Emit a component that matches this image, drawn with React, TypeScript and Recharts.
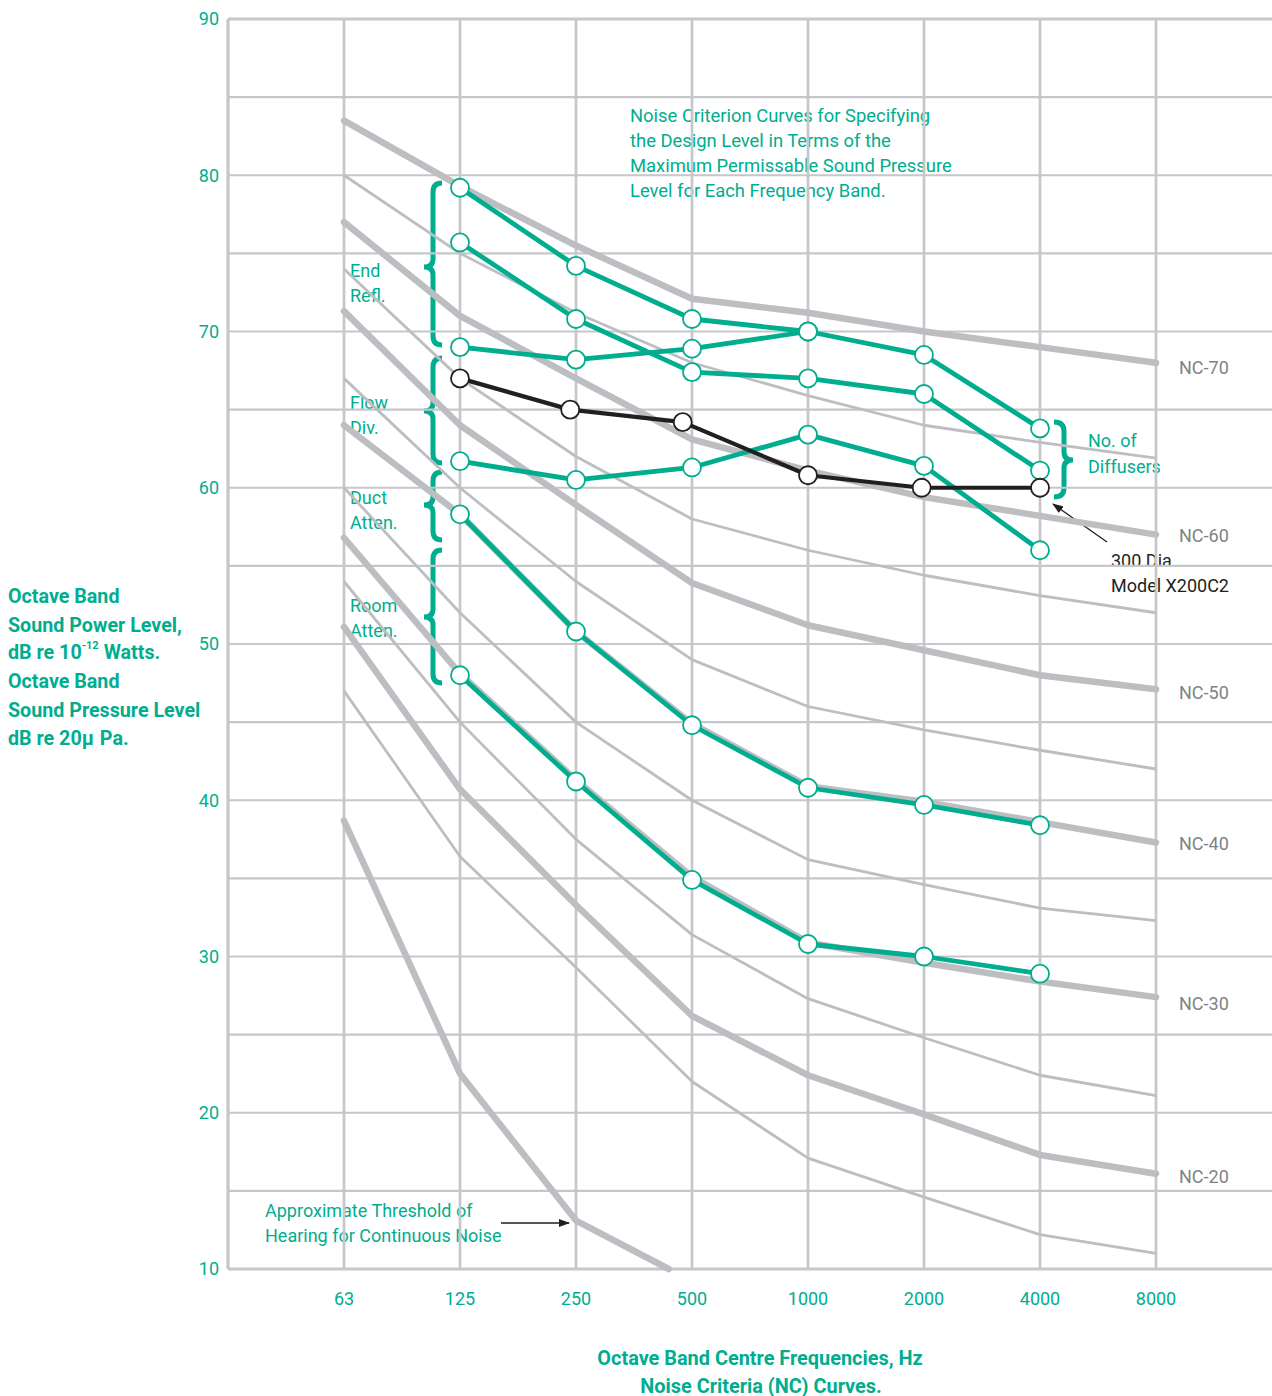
import React from 'react';
import { LineChart, Line, XAxis, YAxis, Customized } from 'recharts';

// ---------- data ----------
const FREQ_LABELS = ['63', '125', '250', '500', '1000', '2000', '4000', '8000'];
const FREQ_POS = [1, 2, 3, 4, 5, 6, 7, 8];
const Y_TICKS = [10, 20, 30, 40, 50, 60, 70, 80, 90];
const GRID_H = [15, 20, 25, 30, 35, 40, 45, 50, 55, 60, 65, 70, 75, 80, 85];
const GRID_V = [1, 2, 3, 4, 5, 6, 7, 8];

// thick NC curves (63 … 8000 Hz)
const NC70 = [83.5, 79.3, 75.5, 72.1, 71.2, 70.0, 69.0, 68.0];
const NC60 = [77.0, 71.0, 67.0, 63.1, 61.1, 59.4, 58.2, 57.0];
const NC50 = [71.3, 64.0, 58.9, 53.9, 51.2, 49.6, 48.0, 47.1];
const NC40 = [64.0, 58.3, 50.8, 44.9, 40.9, 39.9, 38.6, 37.3];
const NC30 = [56.8, 48.1, 41.3, 35.1, 30.9, 29.6, 28.4, 27.4];
const NC20 = [51.1, 40.7, 33.3, 26.2, 22.4, 19.9, 17.3, 16.1];
// thin intermediate NC curves
const NC65 = [80.0, 75.0, 71.2, 68.0, 65.9, 64.0, 62.9, 61.9];
const NC55 = [74.0, 67.0, 62.0, 58.0, 56.0, 54.4, 53.1, 52.0];
const NC45 = [67.0, 60.0, 54.0, 49.0, 46.0, 44.5, 43.2, 42.0];
const NC35 = [60.0, 52.0, 45.0, 40.0, 36.2, 34.6, 33.1, 32.3];
const NC25 = [54.0, 45.0, 37.5, 31.4, 27.3, 24.8, 22.4, 21.1];
const NC15 = [47.0, 36.4, 29.3, 22.0, 17.1, 14.6, 12.2, 11.0];

// hearing threshold (ends where it meets the 10 dB axis)
const THRESHOLD_POS = [1, 2, 3, 3.8];
const THRESHOLD = [38.7, 22.5, 13.1, 10.0];

// selection example series (125 … 4000 Hz)
const SERIES_POS = [2, 3, 4, 5, 6, 7];
const SERIES_A = [79.2, 74.2, 70.8, 70.0, 68.5, 63.8];
const SERIES_B = [75.7, 70.8, 67.4, 67.0, 66.0, 61.1];
const SERIES_C = [69.0, 68.2, 68.9, 70.0];
const SERIES_D = [61.7, 60.5, 61.3, 63.4, 61.4, 56.0];
const SERIES_E = [58.3, 50.8, 44.8, 40.8, 39.7, 38.4];
const SERIES_F = [48.0, 41.2, 34.9, 30.8, 30.0, 28.9];
const MODEL_POS = [2, 2.95, 3.92, 5, 5.98, 7];
const MODEL = [67.0, 65.0, 64.2, 60.8, 60.0, 60.0];

const NC_LABELS = ['NC-70', 'NC-60', 'NC-50', 'NC-40', 'NC-30', 'NC-20'];

// ---------- styling ----------
const TEAL = '#00ad8e';
const GREY = '#bdbec2';
const GRID = '#c6c7ca';
const DARK = '#231f20';
const LABEL_GREY = '#808285';
const FONT = 'Roboto, "Open Sans", sans-serif';

const toPts = (xs: number[], ys: number[]) => ys.map((y, i) => ({ x: xs[i], y }));

const vLine = (x: number) => [{ x, y: 10 }, { x, y: 90 }];
const hLine = (y: number) => [{ x: 0, y }, { x: 9, y }];

const braceL = (x: number, y1: number, y2: number, ym: number) =>
  `M${x + 9},${y1} Q${x},${y1} ${x},${y1 + 9} L${x},${ym - 8} Q${x},${ym} ${x - 9},${ym} Q${x},${ym} ${x},${ym + 8} L${x},${y2 - 9} Q${x},${y2} ${x + 9},${y2}`;
const braceR = (x: number, y1: number, y2: number, ym: number) =>
  `M${x - 10},${y1} Q${x},${y1} ${x},${y1 + 9} L${x},${ym - 8} Q${x},${ym} ${x + 9},${ym} Q${x},${ym} ${x},${ym + 8} L${x},${y2 - 9} Q${x},${y2} ${x - 10},${y2}`;

const T = (props: any) => (
  <text
    fontFamily={FONT}
    fontSize={18}
    dominantBaseline="central"
    fill={TEAL}
    {...props}
  />
);

const Annotations = () => (
  <g>
    <defs>
      <marker id="arrowHead" markerWidth="11" markerHeight="8" refX="10" refY="4" orient="auto" markerUnits="userSpaceOnUse">
        <path d="M0,0 L11,4 L0,8 z" fill={DARK} />
      </marker>
    </defs>
    {/* braces */}
    <g fill="none" stroke={TEAL} strokeWidth={5} strokeLinecap="butt">
      <path d={braceL(433, 183, 345, 267)} />
      <path d={braceL(433, 358, 463, 411)} />
      <path d={braceL(433, 472, 540, 505)} />
      <path d={braceL(433, 550, 683, 617)} />
      <path d={braceR(1064, 422, 497, 460)} />
    </g>
    {/* arrows */}
    <line x1={1107} y1={542} x2={1053} y2={504} stroke={DARK} strokeWidth={1.3} markerEnd="url(#arrowHead)" />
    <line x1={501} y1={1223} x2={569} y2={1223} stroke={DARK} strokeWidth={1.3} markerEnd="url(#arrowHead)" />

    {/* note */}
    <T x={630} y={115} fontSize={18.4}>Noise Criterion Curves for Specifying</T>
    <T x={630} y={140} fontSize={18.4}>the Design Level in Terms of the</T>
    <T x={630} y={165} fontSize={18.4}>Maximum Permissable Sound Pressure</T>
    <T x={630} y={190} fontSize={18.4}>Level for Each Frequency Band.</T>

    <T x={350} y={270}>End</T>
    <T x={350} y={295}>Refl.</T>
    <T x={350} y={402}>Flow</T>
    <T x={350} y={427}>Div.</T>
    <T x={350} y={497}>Duct</T>
    <T x={350} y={522}>Atten.</T>
    <T x={350} y={605}>Room</T>
    <T x={350} y={630}>Atten.</T>

    <T x={1088} y={440}>No. of</T>
    <T x={1088} y={466}>Diffusers</T>

    <T x={1111} y={560} fill={DARK}>300 Dia</T>
    <T x={1111} y={585} fill={DARK}>Model X200C2</T>

    <T x={265} y={1210}>Approximate Threshold of</T>
    <T x={265} y={1235}>Hearing for Continuous Noise</T>

    {/* NC labels */}
    <T x={1179} y={367} fill={LABEL_GREY}>{NC_LABELS[0]}</T>
    <T x={1179} y={535} fill={LABEL_GREY}>{NC_LABELS[1]}</T>
    <T x={1179} y={692} fill={LABEL_GREY}>{NC_LABELS[2]}</T>
    <T x={1179} y={843} fill={LABEL_GREY}>{NC_LABELS[3]}</T>
    <T x={1179} y={1003} fill={LABEL_GREY}>{NC_LABELS[4]}</T>
    <T x={1179} y={1176} fill={LABEL_GREY}>{NC_LABELS[5]}</T>

    {/* left axis title */}
    <T x={8} y={596} fontSize={19.7} fontWeight={700}>Octave Band</T>
    <T x={8} y={625} fontSize={19.7} fontWeight={700}>Sound Power Level,</T>
    <T x={8} y={652} fontSize={19.7} fontWeight={700}>
      dB re 10
      <tspan fontSize={11} dy={-7}>-12</tspan>
      <tspan dy={7} dx={5}>Watts.</tspan>
    </T>
    <T x={8} y={681} fontSize={19.7} fontWeight={700}>Octave Band</T>
    <T x={8} y={710} fontSize={19.7} fontWeight={700}>Sound Pressure Level</T>
    <T x={8} y={738} fontSize={19.7} fontWeight={700}>
      dB re 20µ<tspan dx={6}>Pa.</tspan>
    </T>

    {/* bottom axis title */}
    <T x={760} y={1358} fontSize={19.9} fontWeight={700} textAnchor="middle">Octave Band Centre Frequencies, Hz</T>
    <T x={761} y={1386} fontSize={19.9} fontWeight={700} textAnchor="middle">Noise Criteria (NC) Curves.</T>
  </g>
);

const thick = { stroke: GREY, strokeWidth: 6.5, strokeLinecap: 'round' as const, strokeLinejoin: 'round' as const };
const thin = { stroke: GREY, strokeWidth: 2.8, strokeLinecap: 'butt' as const, strokeLinejoin: 'round' as const };

export default function App() {
  const tickStyle = { fill: TEAL, fontSize: 18, fontFamily: FONT };
  return (
    <div style={{ position: 'absolute', left: 0, top: 0, background: '#fff' }}>
      <LineChart width={1272} height={1396} margin={{ top: 19, right: 0, bottom: 97, left: 168 }}>
        <XAxis
          type="number"
          dataKey="x"
          domain={[0, 9]}
          ticks={FREQ_POS}
          interval={0}
          tickFormatter={(v: number) => FREQ_LABELS[v - 1]}
          axisLine={false}
          tickLine={false}
          tickSize={0}
          tickMargin={23}
          height={30}
          tick={tickStyle}
        />
        <YAxis
          type="number"
          dataKey="y"
          domain={[10, 90]}
          ticks={Y_TICKS}
          interval={0}
          axisLine={false}
          tickLine={false}
          tickSize={0}
          tickMargin={9}
          width={60}
          tick={tickStyle}
        />

        {/* grid */}
        {GRID_H.map((v) => (
          <Line key={'h' + v} data={hLine(v)} dataKey="y" stroke={GRID} strokeWidth={2.2} dot={false} activeDot={false} isAnimationActive={false} />
        ))}
        {GRID_V.map((v) => (
          <Line key={'v' + v} data={vLine(v)} dataKey="y" stroke={GRID} strokeWidth={2.7} dot={false} activeDot={false} isAnimationActive={false} />
        ))}
        <Line data={vLine(0)} dataKey="y" stroke={GRID} strokeWidth={3.2} dot={false} activeDot={false} isAnimationActive={false} />
        <Line data={hLine(90)} dataKey="y" stroke={GRID} strokeWidth={3.2} dot={false} activeDot={false} isAnimationActive={false} />
        <Line data={hLine(10)} dataKey="y" stroke={GRID} strokeWidth={3.2} dot={false} activeDot={false} isAnimationActive={false} />

        {/* thin NC curves */}
        {[NC65, NC55, NC45, NC35, NC25, NC15].map((arr, i) => (
          <Line key={'thin' + i} data={toPts(FREQ_POS, arr)} dataKey="y" {...thin} dot={false} activeDot={false} isAnimationActive={false} />
        ))}
        {/* thick NC curves */}
        {[NC70, NC60, NC50, NC40, NC30, NC20].map((arr, i) => (
          <Line key={'thick' + i} data={toPts(FREQ_POS, arr)} dataKey="y" {...thick} dot={false} activeDot={false} isAnimationActive={false} />
        ))}
        <Line data={toPts(THRESHOLD_POS, THRESHOLD)} dataKey="y" {...thick} dot={false} activeDot={false} isAnimationActive={false} />

        {/* teal series */}
        {[SERIES_C, SERIES_A, SERIES_B, SERIES_D, SERIES_E, SERIES_F].map((arr, i) => (
          <Line
            key={'s' + i}
            data={toPts(SERIES_POS, arr)}
            dataKey="y"
            stroke={TEAL}
            strokeWidth={4.8}
            strokeLinejoin="round"
            dot={{ r: 9, fill: '#fff', stroke: TEAL, strokeWidth: 1.8 }}
            activeDot={false}
            isAnimationActive={false}
          />
        ))}
        <Line
          data={toPts(MODEL_POS, MODEL)}
          dataKey="y"
          stroke={DARK}
          strokeWidth={4.2}
          strokeLinejoin="round"
          dot={{ r: 9, fill: '#fff', stroke: DARK, strokeWidth: 1.8 }}
          activeDot={false}
          isAnimationActive={false}
        />

        <Customized component={Annotations} />
      </LineChart>
    </div>
  );
}
